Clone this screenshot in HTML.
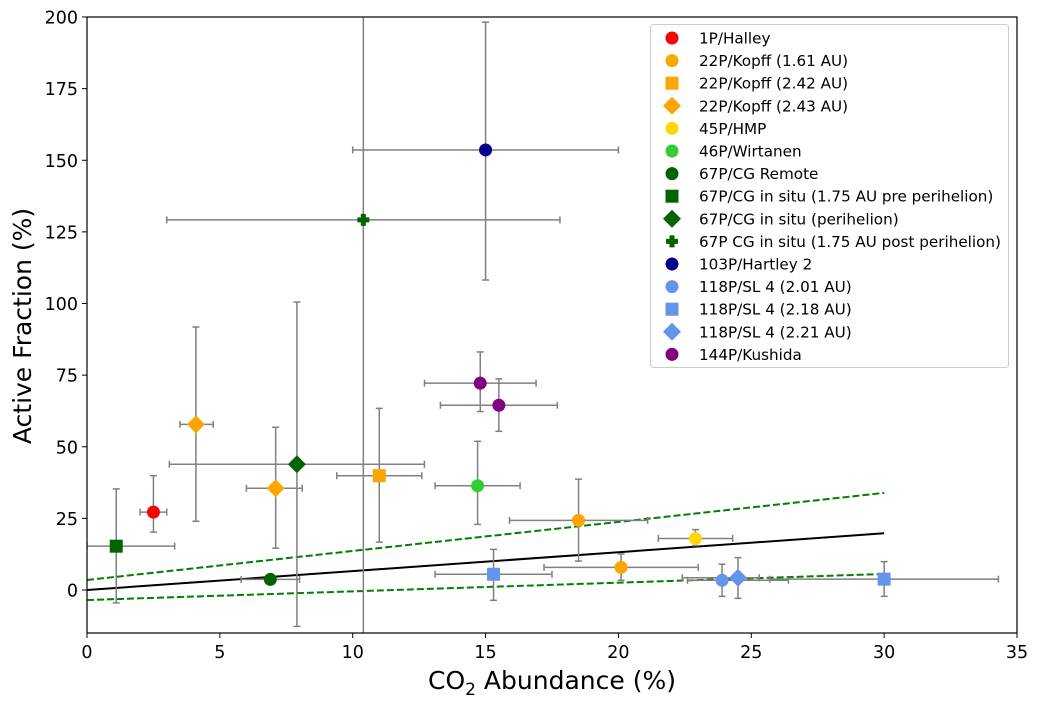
<!DOCTYPE html>
<html><head><meta charset="utf-8"><style>
body{margin:0;background:#fff;}
svg{display:block;font-family:"DejaVu Sans","Liberation Sans",sans-serif;}
</style></head><body>
<svg id="chart" width="1038" height="704">
<rect x="0" y="0" width="1038" height="704" fill="#fff"/>
<g id="plot"></g>
</svg>
<script>
const names=["1P/Halley","22P/Kopff (1.61 AU)","22P/Kopff (1.61 AU)","22P/Kopff (2.42 AU)","22P/Kopff (2.43 AU)","22P/Kopff (2.43 AU)","45P/HMP","46P/Wirtanen","67P/CG Remote","67P/CG in situ (1.75 AU pre perihelion)","67P/CG in situ (perihelion)","67P CG in situ (1.75 AU post perihelion)","103P/Hartley 2","118P/SL 4 (2.01 AU)","118P/SL 4 (2.18 AU)","118P/SL 4 (2.18 AU)","118P/SL 4 (2.21 AU)","144P/Kushida","144P/Kushida"];
const xVals=[2.5,18.5,20.1,11.0,4.1,7.1,22.9,14.7,6.9,1.1,7.9,10.4,15.0,23.9,15.3,30.0,24.5,14.8,15.5];
const yVals=[27.2,24.3,7.9,39.9,57.8,35.5,18.0,36.4,3.7,15.3,43.9,129.2,153.6,3.4,5.5,3.8,4.3,72.2,64.5];
const xLo=[2.0,15.9,17.2,9.4,3.5,6.0,21.5,13.1,5.8,0,3.1,3.0,10.0,22.6,13.1,25.7,22.4,12.7,13.3];
const xHi=[3.0,21.1,23.0,12.6,4.75,8.1,24.3,16.3,8.0,3.3,12.7,17.8,20.0,26.4,17.5,34.3,25.3,16.9,17.7];
const yLo=[20.2,10.1,3.4,16.7,24.0,14.6,15.5,22.9,2.8,-4.5,-12.7,-40,108.2,-2.2,-3.6,-2.2,-2.9,62.3,55.4];
const yHi=[39.9,38.7,12.6,63.4,91.8,56.8,21.1,51.9,4.6,35.3,100.5,240,198.2,9.0,14.2,9.9,11.3,83.1,73.7];
const colors=["red","orange","orange","orange","orange","orange","gold","limegreen","darkgreen","darkgreen","darkgreen","darkgreen","darkblue","cornflowerblue","cornflowerblue","cornflowerblue","cornflowerblue","purple","purple"];
const shapes=["o","o","o","s","d","d","o","o","o","s","d","p","o","o","s","s","d","o","o"];
const xTicks=[0,5,10,15,20,25,30,35];
const yTicks=[0,25,50,75,100,125,150,175,200];
const fitX=[0,30];
const fitY=[0,19.8];
const upperY=[3.5,33.9];
const lowerY=[-3.5,5.6];
const legendNames=["1P/Halley","22P/Kopff (1.61 AU)","22P/Kopff (2.42 AU)","22P/Kopff (2.43 AU)","45P/HMP","46P/Wirtanen","67P/CG Remote","67P/CG in situ (1.75 AU pre perihelion)","67P/CG in situ (perihelion)","67P CG in situ (1.75 AU post perihelion)","103P/Hartley 2","118P/SL 4 (2.01 AU)","118P/SL 4 (2.18 AU)","118P/SL 4 (2.21 AU)","144P/Kushida"];
const legendColors=["red","orange","orange","orange","gold","limegreen","darkgreen","darkgreen","darkgreen","darkgreen","darkblue","cornflowerblue","cornflowerblue","cornflowerblue","purple"];
const legendShapes=["o","o","s","d","o","o","o","s","d","p","o","o","s","d","o"];

const L=87,R=1017,T=17,B=633,xMin=0,xMax=35,yMin=-15,yMax=200;
const sx=v=>L+(v-xMin)/(xMax-xMin)*(R-L);
const sy=v=>B-(v-yMin)/(yMax-yMin)*(B-T);
const NS="http://www.w3.org/2000/svg";
const svg=document.getElementById('chart');
const g=document.getElementById('plot');
function mk(tag,attrs,parent){const e=document.createElementNS(NS,tag);for(const k in attrs)e.setAttribute(k,attrs[k]);(parent||g).appendChild(e);return e;}
const defs=mk('defs',{},svg);
const cp=mk('clipPath',{id:'clip'},defs);
mk('rect',{x:L,y:T,width:R-L,height:B-T},cp);
const data=mk('g',{'clip-path':'url(#clip)'});


function line(ys,attrs,name){const l=mk('line',Object.assign({x1:sx(fitX[0]),y1:sy(ys[0]),x2:sx(fitX[1]),y2:sy(ys[1])},attrs),data);

}
line(fitY,{stroke:'#000','stroke-width':2},'fit-line');
line(upperY,{stroke:'green','stroke-width':2,'stroke-dasharray':'7,3'},'upper-bound-line');
line(lowerY,{stroke:'green','stroke-width':2,'stroke-dasharray':'7,3'},'lower-bound-line');
const gray='#808080';
xVals.forEach((x,i)=>{
  const eg=mk('g',{stroke:gray,'stroke-width':1.5,fill:'none'},data);
  
  
  const px=sx(x),py=sy(yVals[i]);
  mk('line',{x1:sx(xLo[i]),y1:py,x2:sx(xHi[i]),y2:py},eg);
  mk('line',{x1:sx(xLo[i]),y1:py-3.5,x2:sx(xLo[i]),y2:py+3.5},eg);
  mk('line',{x1:sx(xHi[i]),y1:py-3.5,x2:sx(xHi[i]),y2:py+3.5},eg);
  mk('line',{x1:px,y1:sy(yLo[i]),x2:px,y2:sy(yHi[i])},eg);
  mk('line',{x1:px-3.5,y1:sy(yLo[i]),x2:px+3.5,y2:sy(yLo[i])},eg);
  mk('line',{x1:px-3.5,y1:sy(yHi[i]),x2:px+3.5,y2:sy(yHi[i])},eg);
});
function marker(shape,cx,cy,color,parent){
  if(shape==='o')return mk('circle',{cx:cx,cy:cy,r:6.5,fill:color},parent);
  if(shape==='s')return mk('rect',{x:cx-6.5,y:cy-6.5,width:13,height:13,fill:color},parent);
  if(shape==='d')return mk('polygon',{points:`${cx},${cy-9} ${cx+9},${cy} ${cx},${cy+9} ${cx-9},${cy}`,fill:color},parent);
  return mk('path',{d:`M${cx-2.5},${cy-6}h5v3.5h3.5v5h-3.5v3.5h-5v-3.5h-3.5v-5h3.5z`,fill:color},parent);
}
xVals.forEach((x,i)=>{
  const m=marker(shapes[i],sx(x),sy(yVals[i]),colors[i],data);
  
  
});
const fr=mk('rect',{x:L,y:T,width:R-L,height:B-T,fill:'none',stroke:'#000','stroke-width':1.2});


xTicks.forEach(t=>{
  mk('line',{x1:sx(t),y1:B,x2:sx(t),y2:B+5,stroke:'#000','stroke-width':1});
  const tx=mk('text',{x:sx(t),y:B+25,'font-size':17.5,'text-anchor':'middle',fill:'#000'});
  tx.textContent=t;
  
  
});
yTicks.forEach(t=>{
  mk('line',{x1:L-5,y1:sy(t),x2:L,y2:sy(t),stroke:'#000','stroke-width':1});
  const tx=mk('text',{x:L-9,y:sy(t)+6.5,'font-size':17.5,'text-anchor':'end',fill:'#000'});
  tx.textContent=t;
  
  
});
const xt=mk('text',{x:552,y:689,'font-size':25,'text-anchor':'middle',fill:'#000'});
xt.innerHTML='CO<tspan font-size="17" dy="6">2</tspan><tspan dy="-6"> Abundance (%)</tspan>';


const yt=mk('text',{x:0,y:0,'font-size':25,'text-anchor':'middle',fill:'#000',transform:`translate(31,326) rotate(-90)`});
yt.textContent='Active Fraction (%)';


const lg=mk('g',{});


mk('rect',{x:650.5,y:24.5,width:358,height:343,rx:3,fill:'#fff','fill-opacity':0.8,stroke:'#ccc','stroke-width':1},lg);
legendNames.forEach((n,i)=>{
  const row=mk('g',{},lg);
  
  
  const cy=38+i*22.6;
  marker(legendShapes[i],672,cy,legendColors[i],row);
  const t=mk('text',{x:699,y:cy+5.5,'font-size':15.2,fill:'#000'},row);
  t.textContent=n;
});
</script>
</body></html>
